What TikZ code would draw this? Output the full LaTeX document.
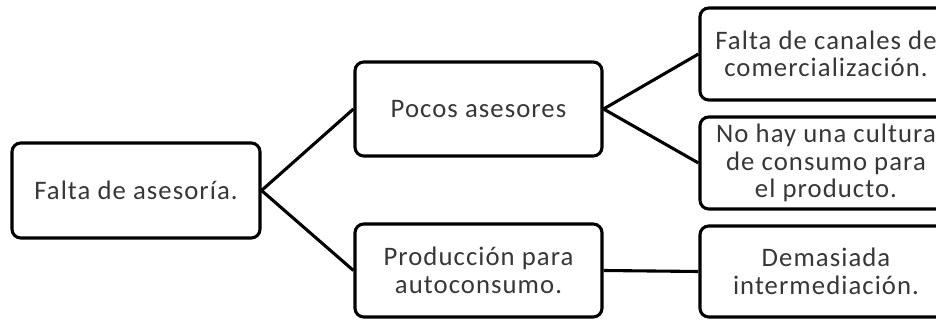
\documentclass[tikz,border=0pt]{standalone}
\usepackage{fontspec}
\newfontfamily\boxfont[LetterSpace=4]{Carlito}
\definecolor{boxtext}{RGB}{55, 55, 55}
\usetikzlibrary{positioning}

\tikzset{
  causa/.style={draw=black, line width=2.2pt, rounded corners=0.22cm, fill=white,
    inner sep=0pt, align=center, text=boxtext,
    font=\boxfont\fontsize{19}{19.5}\selectfont},
  rama/.style={line width=2.2pt, black}
}

\begin{document}
\begin{tikzpicture}
\useasboundingbox (0,0) rectangle (23.4,8);
% first level
\node[causa, minimum width=6.2cm, minimum height=2.375cm] (asesoria) at (3.4,3.2375) {Falta de asesoría.};
% second level
\node[causa, minimum width=6.175cm, minimum height=2.35cm] (asesores) at (11.9625,5.275) {Pocos asesores};
\node[causa, minimum width=6.175cm, minimum height=2.325cm] (autoconsumo) at (11.9625,1.2375) {Producción para\\autoconsumo.};
% third level (cut off at the right edge)
\node[causa, minimum width=6.3cm, minimum height=2.3cm] (canales) at (20.65,6.65) {Falta de canales de\\comercialización.};
\node[causa, minimum width=6.3cm, minimum height=2.3cm] (cultura) at (20.65,3.925) {No hay una cultura\\de consumo para\\el producto.};
\node[causa, minimum width=6.3cm, minimum height=2.275cm] (intermediacion) at (20.65,1.2125) {Demasiada\\intermediación.};

\draw[rama] (asesoria.east) -- (asesores.west);
\draw[rama] (asesoria.east) -- (autoconsumo.west);
\draw[rama] (asesores.east) -- (canales.west);
\draw[rama] (asesores.east) -- (cultura.west);
\draw[rama] (autoconsumo.east) -- (intermediacion.west);
\end{tikzpicture}
\end{document}
